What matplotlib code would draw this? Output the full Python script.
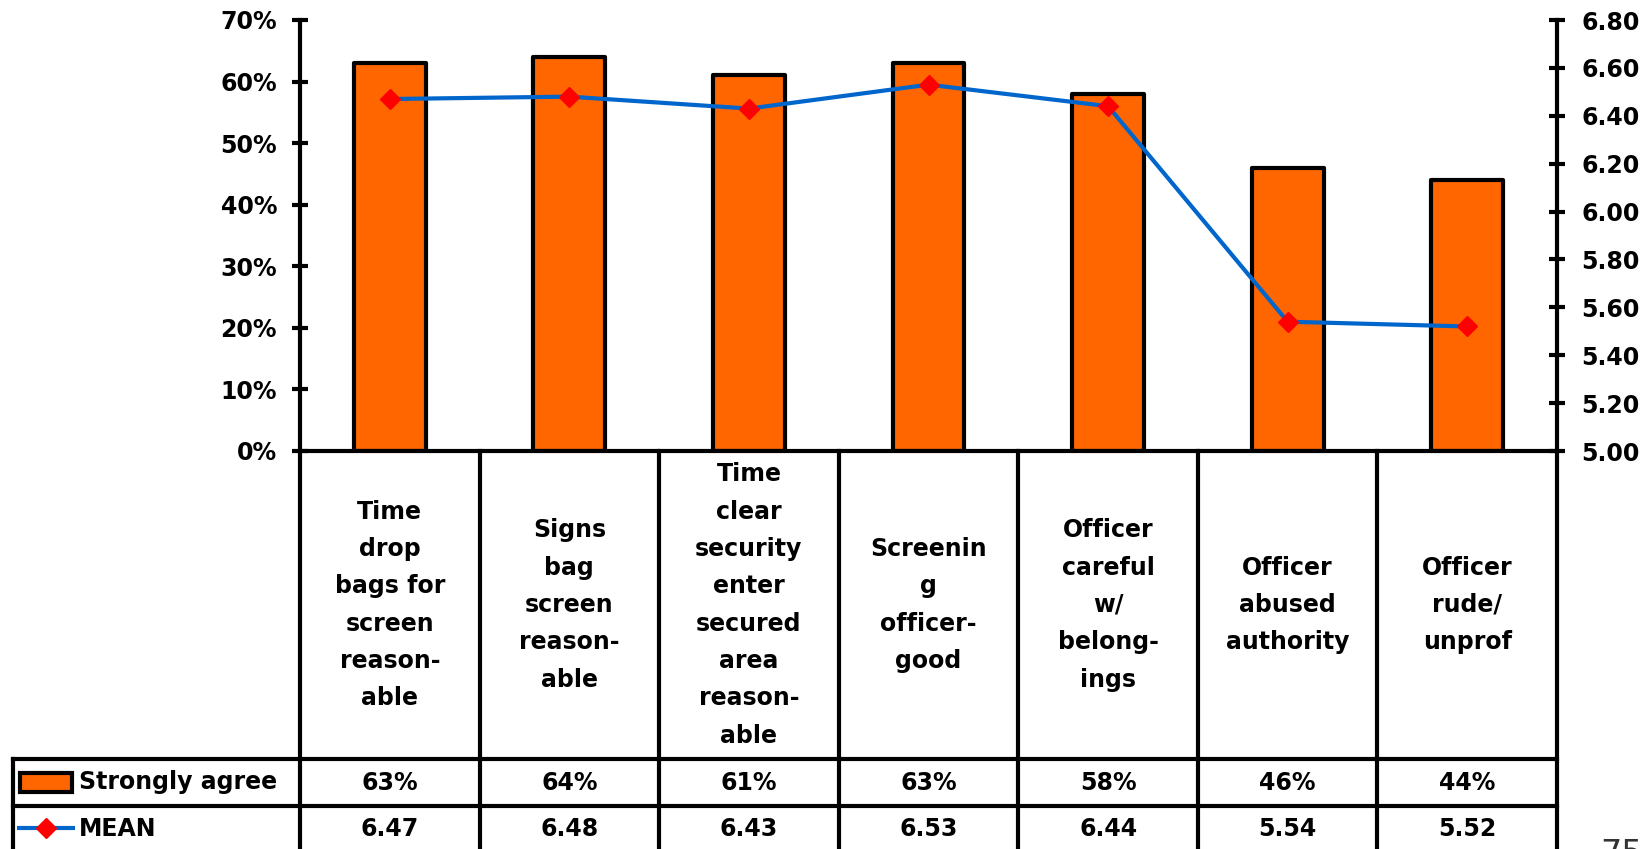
import matplotlib
matplotlib.use("Agg")
import matplotlib.pyplot as plt
from matplotlib.patches import Rectangle
from matplotlib.lines import Line2D
from matplotlib.ticker import FuncFormatter, MultipleLocator

# ------------------------------------------------------------------ #
# Data                                                                 #
# ------------------------------------------------------------------ #
categories = [
    "Time\ndrop\nbags for\nscreen\nreason-\nable",
    "Signs\nbag\nscreen\nreason-\nable",
    "Time\nclear\nsecurity\nenter\nsecured\narea\nreason-\nable",
    "Screenin\ng\nofficer-\ngood",
    "Officer\ncareful\nw/\nbelong-\nings",
    "Officer\nabused\nauthority",
    "Officer\nrude/\nunprof",
]
strongly_agree = [0.63, 0.64, 0.61, 0.63, 0.58, 0.46, 0.44]
mean_score = [6.47, 6.48, 6.43, 6.53, 6.44, 5.54, 5.52]
series_names = ["Strongly agree", "MEAN"]

ORANGE = "#FF6600"
BLUE = "#0066CC"
RED = "#FF0000"
FS = 17
LW = 3

plt.rcParams["font.family"] = ["DejaVu Sans"]
plt.rcParams["font.weight"] = "bold"

W, H = 1644, 849
fig = plt.figure(figsize=(W / 100, H / 100), dpi=100)

# plot area in pixels
px_left, px_right, px_top, px_bot = 300, 1557, 20, 451
tab_left = 13
ax = fig.add_axes([px_left / W, 1 - px_bot / H,
                   (px_right - px_left) / W, (px_bot - px_top) / H])
n = len(categories)
x = list(range(n))

ax.bar(x, strongly_agree, width=0.4, color=ORANGE, edgecolor="black",
       linewidth=LW, zorder=2, joinstyle="round")
ax.set_xlim(-0.5, n - 0.5)
ax.set_ylim(0, 0.7)
ax.yaxis.set_major_locator(MultipleLocator(0.1))
ax.yaxis.set_major_formatter(FuncFormatter(lambda v, p: f"{v * 100:.0f}%"))
ax.set_xticks([])
for s in ["top", "right"]:
    ax.spines[s].set_visible(False)
for s in ["left", "bottom"]:
    ax.spines[s].set_linewidth(LW)
ax.tick_params(axis="y", direction="inout", length=11, width=LW,
               labelsize=FS, pad=11)

ax2 = ax.twinx()
ax2.plot(x, mean_score, color=BLUE, linewidth=LW, marker="D", markersize=10,
         markerfacecolor=RED, markeredgecolor=RED, zorder=3)
ax2.set_ylim(5.0, 6.8)
ax2.yaxis.set_major_locator(MultipleLocator(0.2))
ax2.yaxis.set_major_formatter(FuncFormatter(lambda v, p: f"{v:.2f}"))
for s in ["top", "left", "bottom"]:
    ax2.spines[s].set_visible(False)
ax2.spines["right"].set_linewidth(LW)
ax2.tick_params(axis="y", direction="inout", length=11, width=LW,
                labelsize=FS, pad=12)

# ------------------------------------------------------------------ #
# Data table under the chart                                           #
# ------------------------------------------------------------------ #
unit = (px_right - px_left) / n
x0 = -0.5 - (px_left - tab_left) / unit
tab = fig.add_axes([tab_left / W, 0, (px_right - tab_left) / W, (H - px_bot) / H])
tab.set_xlim(x0, n - 0.5)
tab.set_ylim(H - px_bot, 0)
tab.axis("off")

row1, row2, row_h = 308, 355, 47
bottom = H - px_bot + 5
line_kw = dict(color="black", linewidth=LW, solid_capstyle="projecting",
               clip_on=False)
for i in range(n + 1):
    tab.add_line(Line2D([i - 0.5, i - 0.5], [0, bottom], **line_kw))
tab.add_line(Line2D([x0, x0], [row1, bottom], **line_kw))
for yy in (row1, row2):
    tab.add_line(Line2D([x0, n - 0.5], [yy, yy], **line_kw))

for i, lab in enumerate(categories):
    tab.text(i, row1 / 2, lab, ha="center", va="center", fontsize=FS,
             fontweight="bold", linespacing=1.7)
    tab.text(i, row1 + row_h / 2, f"{strongly_agree[i] * 100:.0f}%",
             ha="center", va="center", fontsize=FS, fontweight="bold")
    tab.text(i, row2 + row_h / 2, f"{mean_score[i]:.2f}",
             ha="center", va="center", fontsize=FS, fontweight="bold")

# legend keys in the first column
px = lambda p: x0 + (p - tab_left) / unit
tab.add_patch(Rectangle((px(20), row1 + 14), px(72) - px(20), 19,
                        facecolor=ORANGE, edgecolor="black", linewidth=LW))
tab.add_line(Line2D([px(19), px(73)], [row2 + 22, row2 + 22], color=BLUE,
                    linewidth=LW, clip_on=False))
tab.add_line(Line2D([px(46)], [row2 + 22], marker="D", markersize=10,
                    color=RED, linestyle="none", clip_on=False))
tab.text(px(79), row1 + row_h / 2, series_names[0], ha="left", va="center",
         fontsize=FS, fontweight="bold")
tab.text(px(79), row2 + row_h / 2, series_names[1], ha="left", va="center",
         fontsize=FS, fontweight="bold")

# page number, cut off at the bottom edge like the source slide
fig.text(1600 / W, 11 / H, "75", ha="left", va="top", fontsize=24,
         fontweight="normal", color="#333333")

fig.savefig("out.png", dpi=100)
